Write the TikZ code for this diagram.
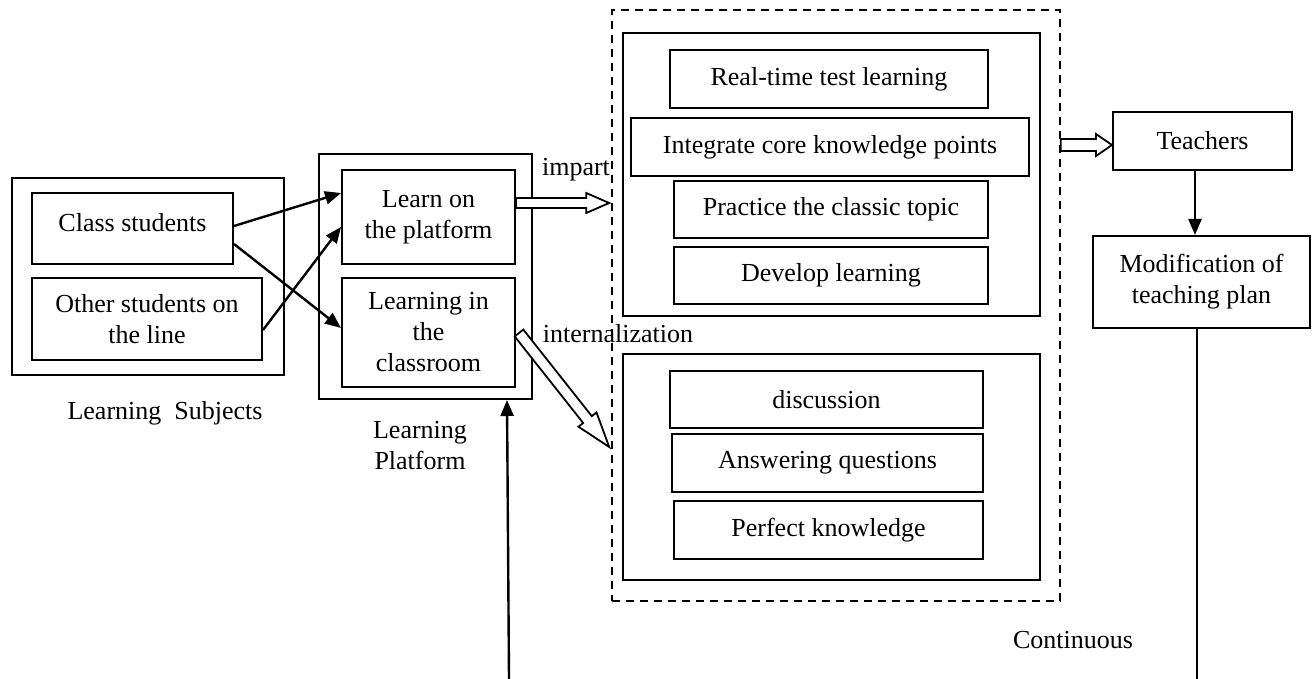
\documentclass[tikz,border=0pt]{standalone}
\usepackage{fontspec}
\setmainfont{Liberation Serif}
\usetikzlibrary{arrows.meta,calc}
\newcommand\hollowarrow[5]{%
  \coordinate (haH) at ($(#2)!#5!(#1)$);
  \draw[hollow] ($(#1)!#3!90:(#2)$) -- ($(haH)!#3!90:(#2)$) -- ($(haH)!#4!90:(#2)$) -- (#2)
     -- ($(haH)!#4!-90:(#2)$) -- ($(haH)!#3!-90:(#2)$) -- ($(#1)!#3!-90:(#2)$) -- cycle;}
% \bx[style]{name}{x1}{y1}{x2}{y2}{text}
\newcommand\bx[7][box]{%
  \pgfmathsetmacro\bxw{(#5-#3)*0.5}\pgfmathsetmacro\bxh{(#6-#4)*0.5}%
  \node[#1,minimum width=\bxw pt,minimum height=\bxh pt] (#2) at ({(#3+#5)/2},{(#4+#6)/2}) {#7};}
\begin{document}
\begin{tikzpicture}[x=0.5pt,y=-0.5pt,
  txt/.style={font=\fontsize{13}{15.5}\selectfont},
  box/.style={draw,line width=1pt,inner sep=0pt,align=center,txt},
  lbl/.style={inner sep=0pt,align=center,txt},
  dbx/.style={draw,line width=0.8pt,dash pattern=on 4pt off 3pt,inner sep=0pt},
  conn/.style={line width=1.2pt,-{Triangle[length=8pt,width=6.5pt]}},
  hollow/.style={draw,line width=0.9pt,fill=white,line join=miter}]
\useasboundingbox (0,0) rectangle (1312,679);

% Learning subjects
\bx{subj}{12}{178}{284}{375}{}
\bx{cs}{32}{193}{233}{264}{\raisebox{6pt}{Class students}}
\bx{os}{32}{278}{262}{360}{Other students on\\the line}
\node[lbl,anchor=base] (lsl) at (165,419) {Learning\ \ Subjects};

% Learning platform
\bx{plat}{319}{154}{532}{399}{}
\bx{lp}{342}{170}{515}{264}{Learn on\\the platform}
\bx{lc}{342}{278}{515}{387}{Learning in\\the\\classroom}
\node[lbl] (lpl) at (420,446) {Learning\\Platform};

% Dashed group
\bx[dbx]{dbox}{612}{10}{1060}{601}{}
\bx{up}{623}{33}{1040}{316}{}
\bx{rt}{670}{50}{988}{108}{Real-time test learning}
\bx{ic}{631}{118}{1029}{176}{Integrate core knowledge points}
\bx{pc}{674}{181}{988}{238}{Practice the classic topic}
\bx{dl}{674}{247}{988}{304}{Develop learning}
\bx{low}{623}{354}{1040}{580}{}
\bx{di}{670}{371}{983}{428}{discussion}
\bx{aq}{672}{434}{983}{492}{Answering questions}
\bx{pk}{674}{501}{983}{559}{Perfect knowledge}

% Teachers side
\bx{tch}{1113}{112}{1292}{170}{Teachers}
\bx{mod}{1093}{236}{1310}{328}{Modification of\\teaching plan}

% labels
\node[lbl,anchor=base] (imp) at (576,176) {impart};
\node[lbl,anchor=base] (intl) at (618,343) {internalization};
\node[lbl,anchor=base] (cont) at (1073,648) {Continuous};

% connectors
\draw[conn] ($(cs.east)+(0,-2.5)$) -- ($(lp.west)+(0,-24)$);
\draw[conn] ($(cs.east)+(0,15.5)$) -- ($(lc.west)+(0,-4.5)$);
\draw[conn] ($(os.east)+(0,11)$) -- ($(lp.west)+(0,10)$);
\draw[conn] ($(tch.south)+(-7.5,0)$) -- ($(mod.north)+(-6.5,0)$);
\coordinate (mb) at (1197,679);
\draw[line width=1pt] ($(mod.south)+(-4.5,0)$) -- (mb);
\coordinate (pb) at (509,679);
\draw[conn] (pb) -- ($(plat.south)+(81.5,0)$);

% hollow arrows
\coordinate (impS) at ($(lp.east)+(0,-14)$);
\coordinate (impE) at ($(dbox.west |- impS)+(-2,0)$);
\hollowarrow{impS}{impE}{2.5pt}{5pt}{11.5pt}
\coordinate (intS) at ($(lc.east)+(3,0.5)$);
\coordinate (intE) at ($(dbox.west)+(-2,141.5)$);
\hollowarrow{intS}{intE}{2.75pt}{5.75pt}{17.5pt}
\coordinate (tS) at ($(dbox.east)+(0,-160.5)$);
\coordinate (tE) at (tch.west |- tS);
\hollowarrow{tS}{tE}{3pt}{5.5pt}{8pt}
\end{tikzpicture}
\end{document}
